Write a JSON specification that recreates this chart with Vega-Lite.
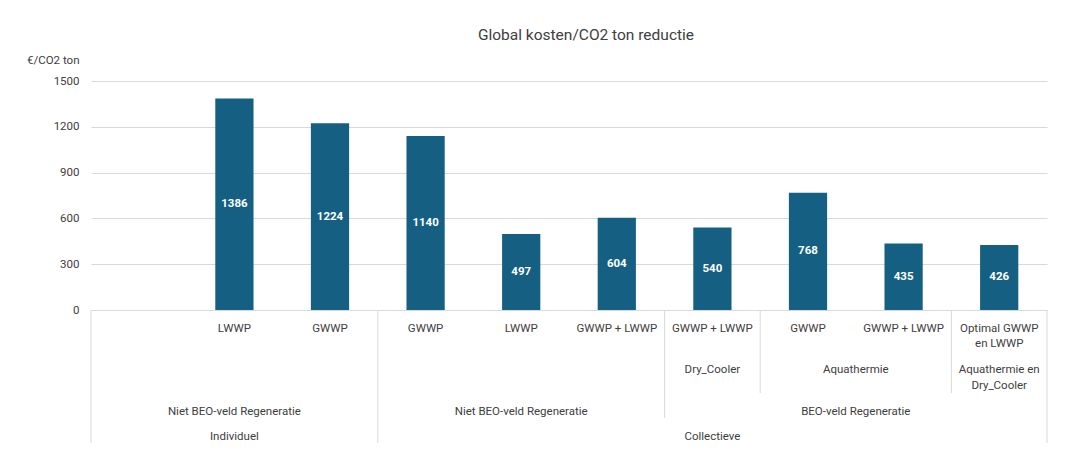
{
  "$schema": "https://vega.github.io/schema/vega-lite/v6.json",
  "padding": {"left": 26, "top": 27, "right": 23, "bottom": 21},
  "background": "white",
  "config": {"font": "Roboto", "view": {"stroke": null}, "concat": {"spacing": 0}},
  "title": {"text": "Global kosten/CO2 ton reductie", "fontSize": 15.5, "fontWeight": "normal", "color": "#404040", "anchor": "middle", "frame": "group", "dx": 17, "offset": 11},
  "datasets": {
    "bars": [
      {"slot": "s1", "item": "LWWP", "value": 1386},
      {"slot": "s2", "item": "GWWP", "value": 1224},
      {"slot": "s3", "item": "GWWP", "value": 1140},
      {"slot": "s4", "item": "LWWP", "value": 497},
      {"slot": "s5", "item": "GWWP + LWWP", "value": 604},
      {"slot": "s6", "item": "GWWP + LWWP", "value": 540},
      {"slot": "s7", "item": "GWWP", "value": 768},
      {"slot": "s8", "item": "GWWP + LWWP", "value": 435},
      {"slot": "s9", "item": "Optimal GWWP\nen LWWP", "value": 426}
    ],
    "groupLabels": [
      {"slot": "s6", "level": 2, "label": "Dry_Cooler"},
      {"slot": "s9", "level": 2, "label": "Aquathermie en\nDry_Cooler"},
      {"slot": "s1", "level": 3, "label": "Niet BEO-veld Regeneratie"},
      {"slot": "s4", "level": 3, "label": "Niet BEO-veld Regeneratie"},
      {"slot": "s1", "level": 4, "label": "Individuel"},
      {"slot": "s6", "level": 4, "label": "Collectieve"}
    ],
    "edgeLabels": [
      {"slot": "s7", "level": 2, "label": "Aquathermie"},
      {"slot": "s7", "level": 3, "label": "BEO-veld Regeneratie"}
    ],
    "separators": [
      {"slot": "s0", "until": 5},
      {"slot": "s3", "until": 5},
      {"slot": "s6", "until": 4},
      {"slot": "s7", "until": 3},
      {"slot": "s9", "until": 3}
    ],
    "endSeparator": [
      {"slot": "s9", "until": 5}
    ]
  },
  "spacing": 0,
  "bounds": "flush",
  "vconcat": [
    {
      "width": 956,
      "height": 229,
      "data": {"name": "bars"},
      "encoding": {
        "x": {
          "field": "slot", "type": "nominal",
          "scale": {"domain": ["s0", "s1", "s2", "s3", "s4", "s5", "s6", "s7", "s8", "s9"], "paddingInner": 0.6, "paddingOuter": 0.3},
          "axis": null
        }
      },
      "resolve": {"scale": {"y": "independent"}},
      "layer": [
        {
          "mark": {"type": "bar", "color": "#156082"},
          "encoding": {
            "y": {
              "field": "value", "type": "quantitative",
              "scale": {"domain": [0, 1500], "nice": false},
              "axis": {
                "values": [0, 300, 600, 900, 1200, 1500], "format": "d",
                "grid": true, "gridColor": "#d9d9d9", "domain": false, "ticks": false, "tickSize": 0,
                "labelPadding": 12, "labelFontSize": 11.5, "labelColor": "#404040",
                "title": "€/CO2 ton", "titleAngle": 0, "titleAlign": "right", "titleBaseline": "middle",
                "titleX": -12, "titleY": -21, "titleFontSize": 11.5, "titleFontWeight": "normal", "titleColor": "#404040"
              }
            }
          }
        },
        {
          "mark": {"type": "text", "color": "white", "fontWeight": "bold", "fontSize": 11.5, "baseline": "middle"},
          "encoding": {
            "y": {"field": "value", "type": "quantitative", "scale": {"domain": [0, 3000], "nice": false}, "axis": null},
            "text": {"field": "value", "type": "quantitative"}
          }
        }
      ]
    },
    {
      "width": 956,
      "height": 133,
      "layer": [
        {
          "data": {"name": "separators"},
          "mark": {"type": "rule", "color": "#d9d9d9", "strokeWidth": 1},
          "encoding": {
            "x": {"field": "slot", "type": "nominal", "bandPosition": 0,
                  "scale": {"domain": ["s0", "s1", "s2", "s3", "s4", "s5", "s6", "s7", "s8", "s9"], "paddingInner": 0, "paddingOuter": 0},
                  "axis": {"orient": "top", "labels": false, "ticks": false, "tickSize": 0, "labelPadding": 0, "domain": true, "domainColor": "#d9d9d9", "title": null, "grid": false}},
            "y": {"field": "until", "type": "quantitative",
                  "scale": {"domain": [1, 2, 3, 4, 5], "range": [0, 41.5, 83, 108, 133], "zero": false, "nice": false},
                  "axis": null},
            "y2": {"datum": 1}
          }
        },
        {
          "data": {"name": "endSeparator"},
          "mark": {"type": "rule", "color": "#d9d9d9", "strokeWidth": 1},
          "encoding": {
            "x": {"field": "slot", "type": "nominal", "bandPosition": 1},
            "y": {"field": "until", "type": "quantitative"},
            "y2": {"datum": 1}
          }
        },
        {
          "data": {"name": "bars"},
          "mark": {"type": "text", "fontSize": 11.5, "color": "#404040", "baseline": "top", "dy": 12.5, "lineBreak": "\n", "lineHeight": 15.5},
          "encoding": {
            "x": {"field": "slot", "type": "nominal"},
            "y": {"datum": 1, "type": "quantitative"},
            "text": {"field": "item", "type": "nominal"}
          }
        },
        {
          "data": {"name": "groupLabels"},
          "mark": {"type": "text", "fontSize": 11.5, "color": "#404040", "baseline": "top", "dy": 12.5, "lineBreak": "\n", "lineHeight": 15.5},
          "encoding": {
            "x": {"field": "slot", "type": "nominal"},
            "y": {"field": "level", "type": "quantitative"},
            "text": {"field": "label", "type": "nominal"}
          }
        },
        {
          "data": {"name": "edgeLabels"},
          "mark": {"type": "text", "fontSize": 11.5, "color": "#404040", "baseline": "top", "dy": 12.5},
          "encoding": {
            "x": {"field": "slot", "type": "nominal", "bandPosition": 1},
            "y": {"field": "level", "type": "quantitative"},
            "text": {"field": "label", "type": "nominal"}
          }
        }
      ]
    }
  ]
}
